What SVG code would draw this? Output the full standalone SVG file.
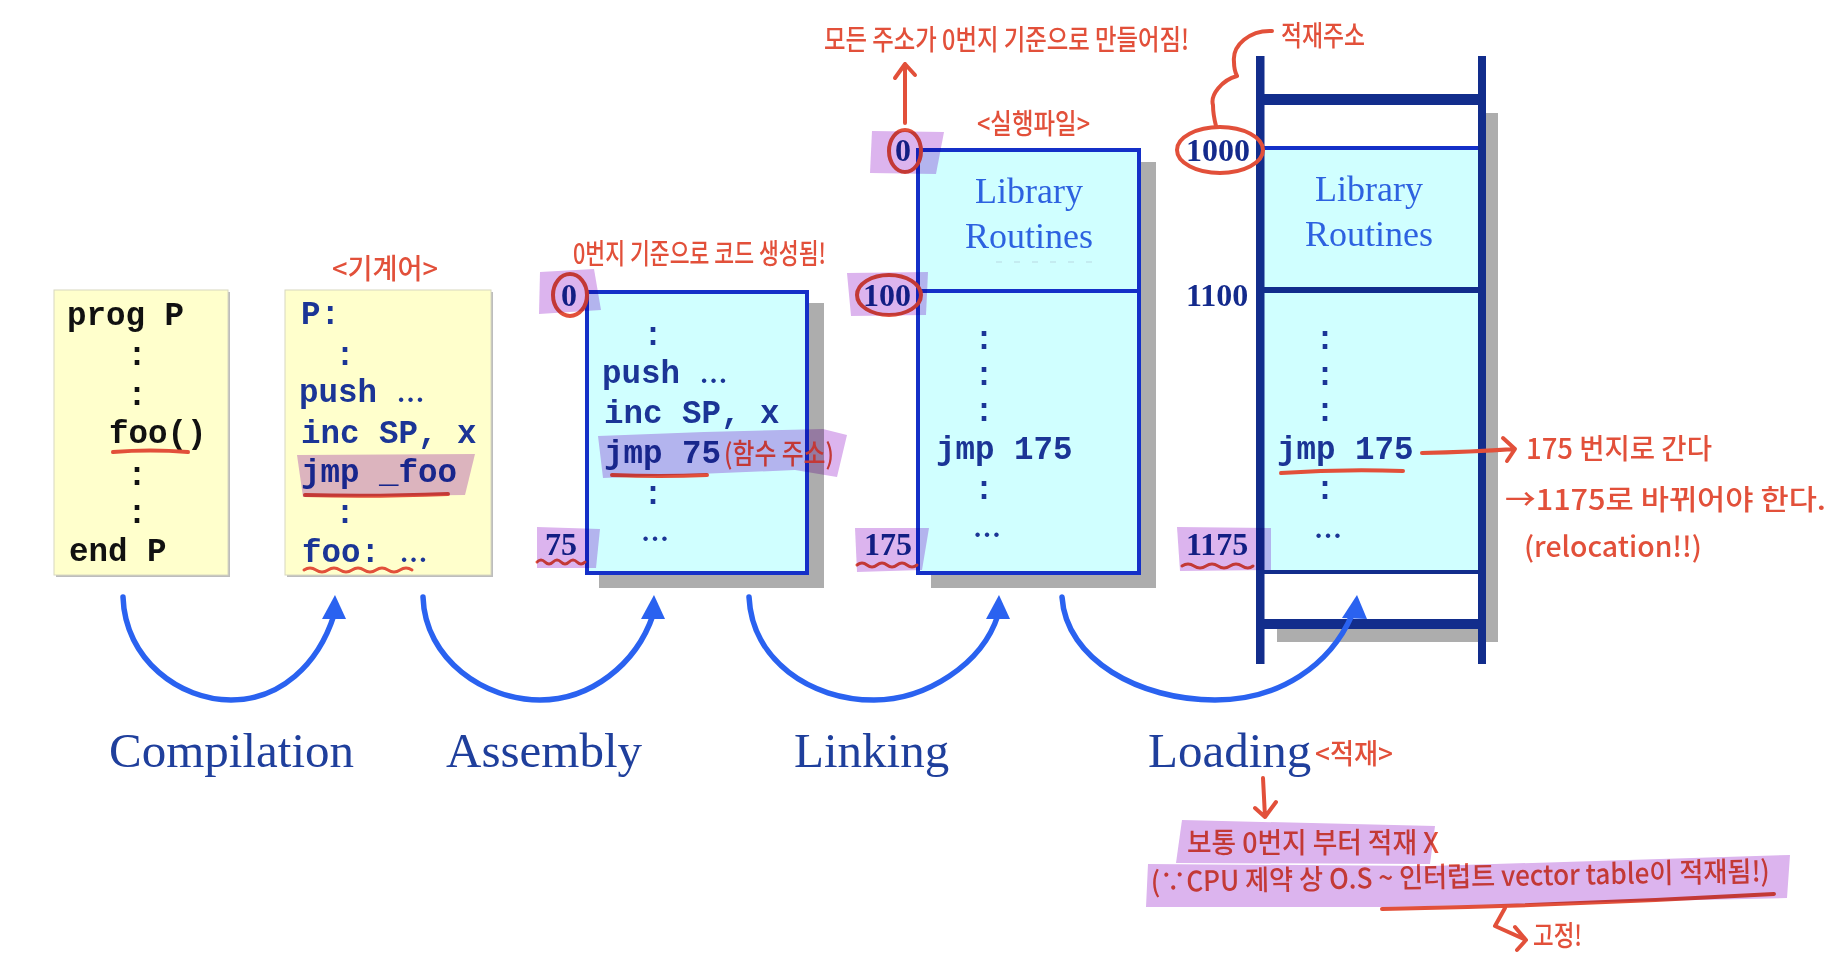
<svg xmlns="http://www.w3.org/2000/svg" width="1840" height="970" viewBox="0 0 1840 970">
<defs>
<style>
.code{font-family:"Liberation Mono",monospace;font-weight:700;font-size:32.5px;fill:#1b3596}
.k{fill:#111}
.c{text-anchor:middle}
.el{font-family:"Liberation Serif",serif;font-size:28px}
.serif{font-family:"Liberation Serif",serif}
.lib{font-size:36px;fill:#2d62e0;text-anchor:middle}
.addr{font-size:32px;font-weight:700;fill:#142a8c}
.stage{font-size:49px;fill:#1f3f9c}
.note{font-family:"Noto Sans CJK KR","Noto Sans",sans-serif;font-size:28px;font-weight:500;fill:#e2503a}
.red{fill:none;stroke:#e2503a;stroke-width:4;stroke-linecap:round;stroke-linejoin:round}
.thin{stroke-width:3}
.hl{fill:#dcb4ee;mix-blend-mode:multiply}
.arc{fill:none;stroke:#2a62f0;stroke-width:5.5;stroke-linecap:round}
.head{fill:#2a62f0}
.shadow{fill:#adadad}
.yellow{fill:#ffffcc;stroke:#d8d8c0;stroke-width:1}
.cyan{fill:#d0ffff;stroke:#1430c8;stroke-width:4}
.bar{fill:#122d8c}
</style>
</defs>
<rect width="1840" height="970" fill="#fff"/>

<g id="source">
<rect x="56" y="292" width="174" height="285" fill="#bdbdbd"/>
<rect class="yellow" x="54" y="290" width="174" height="285"/>
<text class="code k" x="67" y="325">prog P</text>
<text class="code k c" x="137" y="365">:</text>
<text class="code k c" x="137" y="405">:</text>
<text class="code k" x="109" y="443">foo()</text>
<text class="code k c" x="137" y="485">:</text>
<text class="code k c" x="137" y="523">:</text>
<text class="code k" x="69" y="561">end P</text>
</g>

<g id="assembly-code">
<rect x="287" y="292" width="206" height="285" fill="#bdbdbd"/>
<rect class="yellow" x="285" y="290" width="206" height="285"/>
<text class="code" x="301" y="324">P:</text>
<text class="code c" x="345" y="365">:</text>
<text class="code" x="299" y="402">push <tspan class="el">…</tspan></text>
<text class="code" x="301" y="443">inc SP, x</text>
<text class="code" x="301" y="482">jmp _foo</text>
<text class="code c" x="345" y="523">:</text>
<text class="code" x="302" y="562">foo: <tspan class="el">…</tspan></text>
<text class="note" x="332" y="279" textLength="106" lengthAdjust="spacingAndGlyphs">&lt;기계어&gt;</text>
</g>

<g id="object-module">
<rect class="shadow" x="599" y="303" width="225" height="285"/>
<rect class="cyan" x="587" y="292" width="220" height="281"/>
<text class="code c" x="653" y="345">:</text>
<text class="code" x="602" y="383">push <tspan class="el">…</tspan></text>
<text class="code" x="604" y="423">inc SP, x</text>
<text class="code" x="604" y="463">jmp 75</text>
<text class="code c" x="653" y="504">:</text>
<text class="code c el" x="655" y="541">…</text>
<text class="serif addr c" x="569" y="306">0</text>
<text class="serif addr" x="545" y="555">75</text>
<text class="note" x="573" y="264" textLength="253" lengthAdjust="spacingAndGlyphs">0번지 기준으로 코드 생성됨!</text>
<text class="note" x="724" y="464" textLength="110" lengthAdjust="spacingAndGlyphs">(함수 주소)</text>
</g>

<g id="load-module">
<rect class="shadow" x="931" y="162" width="225" height="426"/>
<rect class="cyan" x="918" y="150" width="221" height="423"/>
<line x1="918" y1="291" x2="1139" y2="291" stroke="#1430c8" stroke-width="4"/>
<line x1="996" y1="262" x2="1092" y2="262" stroke="#b9d9e2" stroke-width="1" stroke-dasharray="6 12"/>
<text class="serif lib" x="1029" y="203">Library</text>
<text class="serif lib" x="1029" y="248">Routines</text>
<text class="code c" x="984" y="349">:</text>
<text class="code c" x="984" y="385">:</text>
<text class="code c" x="984" y="421">:</text>
<text class="code" x="936" y="459">jmp 175</text>
<text class="code c" x="984" y="499">:</text>
<text class="code c el" x="987" y="537">…</text>
<text class="serif addr c" x="903" y="161">0</text>
<text class="serif addr" x="863" y="306">100</text>
<text class="serif addr" x="864" y="555">175</text>
<text class="note" x="977" y="134" textLength="113" lengthAdjust="spacingAndGlyphs">&lt;실행파일&gt;</text>
<text class="note" x="824" y="50" textLength="365" lengthAdjust="spacingAndGlyphs">모든 주소가 0번지 기준으로 만들어짐!</text>
</g>

<g id="memory">
<rect class="shadow" x="1486" y="113" width="12" height="529"/>
<rect class="shadow" x="1277" y="629" width="221" height="13"/>
<rect x="1264" y="149" width="218" height="422" fill="#d0ffff"/>
<rect x="1264" y="146" width="218" height="4" fill="#1430c8"/>
<rect class="bar" x="1256" y="56" width="8.5" height="608"/>
<rect class="bar" x="1478" y="56" width="8" height="608"/>
<rect class="bar" x="1264" y="94" width="218" height="11"/>
<rect class="bar" x="1264" y="287" width="218" height="6"/>
<rect class="bar" x="1264" y="570" width="218" height="4"/>
<rect class="bar" x="1264" y="619" width="218" height="10"/>
<text class="serif lib" x="1369" y="201">Library</text>
<text class="serif lib" x="1369" y="246">Routines</text>
<text class="code c" x="1325" y="349">:</text>
<text class="code c" x="1325" y="385">:</text>
<text class="code c" x="1325" y="421">:</text>
<text class="code" x="1277" y="459">jmp 175</text>
<text class="code c" x="1325" y="499">:</text>
<text class="code c el" x="1328" y="538">…</text>
<text class="serif addr" x="1186" y="161">1000</text>
<text class="serif addr" x="1186" y="306">1100</text>
<text class="serif addr" x="1186" y="555">1175</text>
<text class="note" x="1281" y="46" textLength="84" lengthAdjust="spacingAndGlyphs">적재주소</text>
<text class="note" x="1526" y="459" textLength="186" lengthAdjust="spacingAndGlyphs">175 번지로 간다</text>
<text class="note" x="1505" y="510" textLength="321" lengthAdjust="spacingAndGlyphs">→1175로 바뀌어야 한다.</text>
<text class="note" x="1524" y="557" textLength="178" lengthAdjust="spacingAndGlyphs">(relocation!!)</text>
</g>

<g id="stages">
<text class="serif stage" x="109" y="767">Compilation</text>
<text class="serif stage" x="446" y="767">Assembly</text>
<text class="serif stage" x="794" y="767">Linking</text>
<text class="serif stage" x="1148" y="767">Loading</text>
<text class="note" x="1315" y="764" textLength="78" lengthAdjust="spacingAndGlyphs">&lt;적재&gt;</text>
</g>

<g id="loading-notes">
<text class="note" x="1187" y="853" textLength="252" lengthAdjust="spacingAndGlyphs">보통 0번지 부터 적재 X</text>
<text class="note" transform="rotate(-1 1151 892)" x="1151" y="892" textLength="619" lengthAdjust="spacingAndGlyphs">(∵CPU 제약 상  O.S ~ 인터럽트 vector table이 적재됨!)</text>
<text class="note" x="1533" y="946" textLength="49" lengthAdjust="spacingAndGlyphs">고정!</text>
</g>

<g id="connectors">
<path class="arc" d="M123 597C125 660 180 700 231 700C280 700 318 665 334 615"/>
<path class="head" d="M335 595L322 619L346 619Z"/>
<path class="arc" d="M423 597C425 660 485 700 540 700C590 700 636 665 653 615"/>
<path class="head" d="M654 595L641 619L665 619Z"/>
<path class="arc" d="M749 597C752 660 810 700 874 700C925 700 982 665 998 615"/>
<path class="head" d="M999 595L986 619L1010 619Z"/>
<path class="arc" d="M1062 597C1066 660 1140 700 1215 700C1280 700 1330 665 1352 615"/>
<path class="head" d="M1357 595L1342 618L1367 619Z"/>
</g>

<g id="annotations">
<path class="red" d="M113 452Q150 449 188 452"/>
<path class="red" d="M305 495Q370 497 448 494"/>
<path class="red thin" d="M304 570q6-4 12 0t12 0t12 0t12 0t12 0t12 0t12 0t12 0t12 0"/>
<path class="red" d="M905 123V64M895 78L905 64L915 75"/>
<ellipse class="red" cx="905" cy="151" rx="16" ry="21"/>
<ellipse class="red" cx="570" cy="295" rx="17" ry="21"/>
<ellipse class="red" cx="889" cy="295" rx="32" ry="20"/>
<ellipse class="red" cx="1220" cy="150" rx="43" ry="23"/>
<path class="red thin" d="M537 562q4-4 8 0t8 0t8 0t8 0t8 0t8 0"/>
<path class="red thin" d="M857 565q5-4 10 0t10 0t10 0t10 0t10 0t10 0"/>
<path class="red thin" d="M1182 566q6-4 12 0t12 0t12 0t12 0t12 0t11 0"/>
<path class="red" d="M612 475Q660 477 707 475"/>
<path class="red" d="M1281 473Q1340 469 1403 471"/>
<path class="red" d="M1422 453Q1470 452 1515 449M1503 438L1515 449L1507 461"/>
<path class="red" d="M1272 31C1250 30 1232 45 1234 62C1234 68 1235 72 1237 76C1222 80 1210 95 1213 105C1213 112 1214 118 1216 126"/>
<path class="red" d="M1263 778L1265 817M1255 808L1265 817L1276 802"/>
<path class="red" d="M1382 909Q1580 905 1774 894"/>
<path class="red" d="M1505 908L1495 926L1526 940M1515 927L1526 940L1517 950"/>
</g>

<g id="highlights">
<polygon class="hl" points="297,455 475,454 465,495 303,497"/>
<polygon class="hl" points="872,131 944,132 936,174 870,173"/>
<polygon class="hl" points="540,272 594,269 601,310 539,314"/>
<polygon class="hl" points="847,273 928,272 926,315 851,316"/>
<polygon class="hl" points="537,527 600,529 596,568 537,568"/>
<polygon class="hl" points="855,528 929,528 922,570 857,572"/>
<polygon class="hl" points="1177,527 1271,528 1271,570 1180,571"/>
<polygon class="hl" points="598,436 704,432 823,429 847,435 837,477 795,470 603,478"/>
<polygon class="hl" points="1182,820 1435,826 1430,864 1176,863"/>
<polygon class="hl" points="1148,864 1430,866 1790,855 1787,898 1383,907 1146,907"/>
</g>
</svg>
